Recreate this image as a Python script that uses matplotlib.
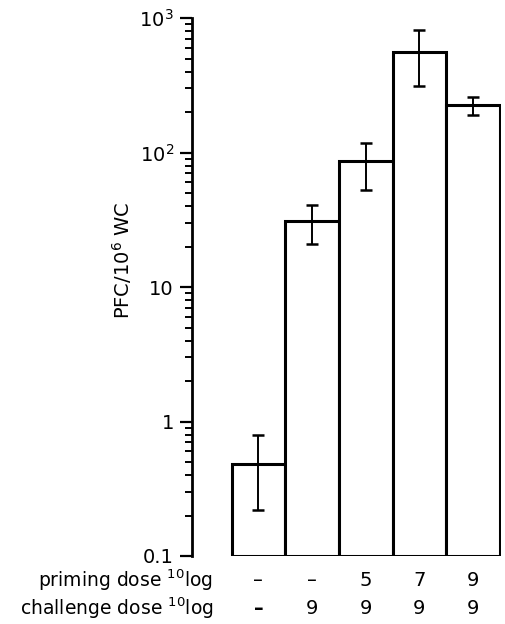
import numpy as np
import matplotlib
matplotlib.use('Agg')
import matplotlib.pyplot as plt
from matplotlib.ticker import FixedLocator, FixedFormatter, LogLocator, NullFormatter

plt.rcParams['font.family'] = ['DejaVu Sans']
plt.rcParams['mathtext.fontset'] = 'dejavusans'

# data
values = [0.48, 31, 86, 557, 224]
err_low = [0.22, 21, 53, 312, 189]
err_high = [0.79, 41, 117, 815, 258]
priming = ['–', '–', '5', '7', '9']
challenge = ['–', '9', '9', '9', '9']
ytick_vals = [0.1, 1, 10, 100, 1000]
ytick_labels = ['0.1', '1', '10', r'$\mathregular{10^2}$', r'$\mathregular{10^3}$']

base = 0.1
x = np.arange(len(values))
vals = np.array(values)
yerr = [vals - np.array(err_low), np.array(err_high) - vals]

fig = plt.figure(figsize=(5.05, 6.24), dpi=100)
ax = fig.add_axes([0.380, 0.109, 0.612, 0.862])

ax.bar(x, vals - base, width=1.0, bottom=base, color='white', edgecolor='black',
       linewidth=2.2, zorder=2)
ax.errorbar(x, values, yerr=yerr, fmt='none', ecolor='black', elinewidth=1.4,
            capsize=4, capthick=1.8, zorder=3)

ax.set_yscale('log')
ax.set_ylim(0.1, 1000)
ax.set_xlim(-1.24, 4.52)

ax.yaxis.set_major_locator(FixedLocator(ytick_vals))
ax.yaxis.set_major_formatter(FixedFormatter(ytick_labels))
ax.yaxis.set_minor_locator(LogLocator(base=10, subs=np.arange(2, 10)))
ax.yaxis.set_minor_formatter(NullFormatter())
ax.tick_params(axis='y', which='major', direction='out', length=9, width=1.6, labelsize=14, pad=4)
ax.tick_params(axis='y', which='minor', direction='out', length=5, width=1.4)
ax.set_xticks([])

for s in ['top', 'right', 'bottom']:
    ax.spines[s].set_visible(False)
ax.spines['left'].set_linewidth(2)

fig.text(0.242, 0.583, r'PFC/10$^6$ WC', rotation=90, ha='center', va='center', fontsize=14)

# table under the bars
row1, row2 = 0.0655, 0.0410
ax.text(-0.84, row1, r'priming dose $^{10}$log', ha='right', va='center', fontsize=13.5)
ax.text(-0.84, row2, r'challenge dose $^{10}$log', ha='right', va='center', fontsize=13.5)
for i in range(len(values)):
    ax.text(x[i], row1, priming[i], ha='center', va='center', fontsize=14)
    ax.text(x[i], row2, challenge[i], ha='center', va='center', fontsize=14,
            fontweight='bold' if challenge[i] == '–' else 'normal')

fig.savefig('out.png', dpi=100)
